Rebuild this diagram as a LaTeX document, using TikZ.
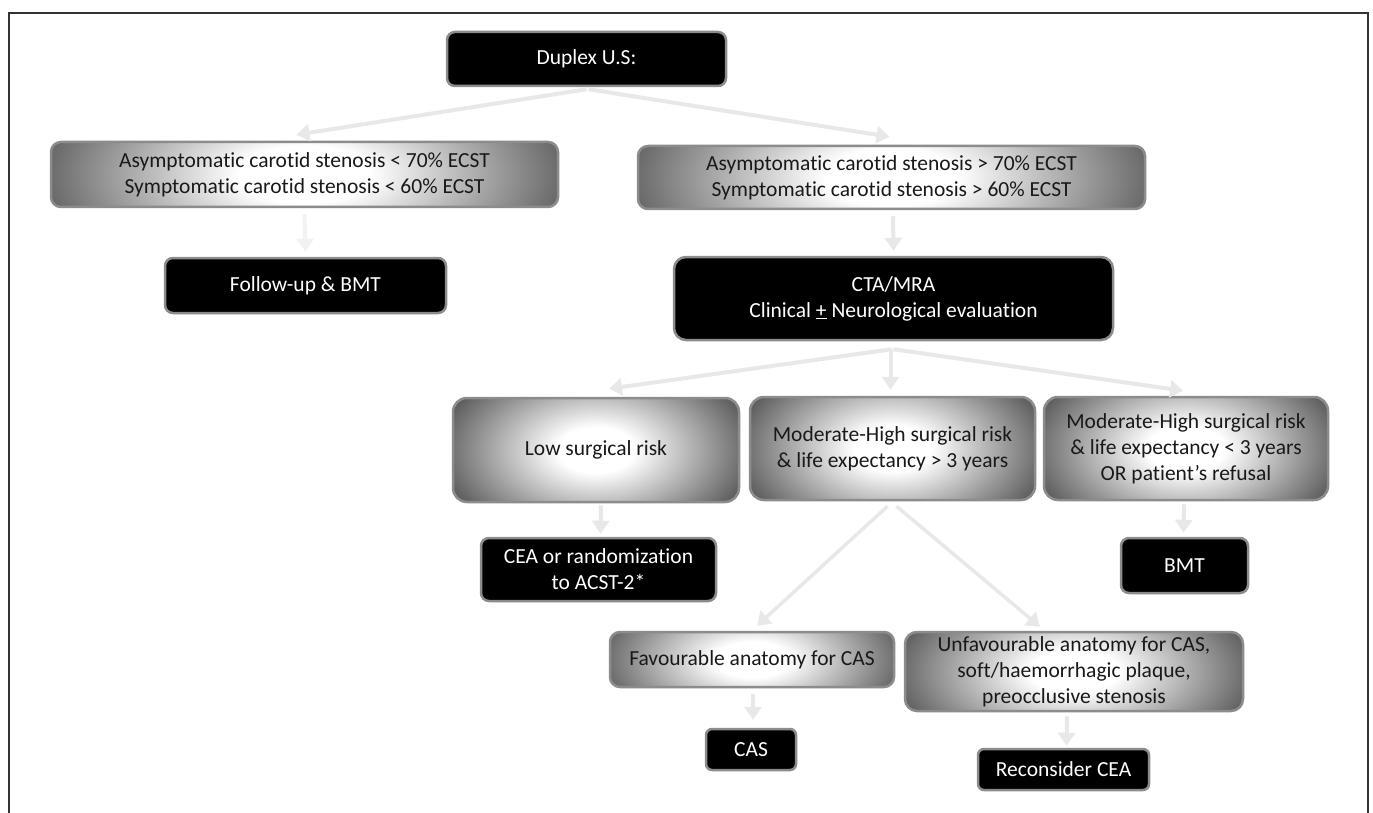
\documentclass[tikz,border=0pt]{standalone}
\usepackage{fontspec}
\setmainfont{Carlito}[Ligatures=NoCommon]
\usetikzlibrary{arrows.meta,calc}
\pgfdeclareradialshading{softshade}{\pgfpointorigin}{color(0bp)=(white); color(6bp)=(white); color(25bp)=(black!64); color(50bp)=(black!64)}
\tikzset{
  boxfont/.style={font=\fontsize{21.5}{26}\selectfont},
  blackbox/.style={boxfont, draw=black!45, line width=2.5pt, fill=black, rounded corners=8pt, text=white, align=center, inner sep=0pt},
  graybox/.style 2 args={boxfont, draw=black!45, line width=2.5pt, rounded corners=10pt, text=black!90, align=center, inner sep=0pt,
    path picture={
      \fill[black!64] (path picture bounding box.south west) rectangle (path picture bounding box.north east);
      \shade[shading=softshade] (path picture bounding box.center) ellipse [x radius=#1, y radius=#2];
    }},
  conn/.style={draw=black!9, line width=4pt, -{Triangle[width=17pt,length=13pt]}},
}
\begin{document}
\begin{tikzpicture}[x=1pt,y=-1pt]
\useasboundingbox (0,0) rectangle (1373,813);
\fill[white] (0,0) rectangle (1373,813);
\draw[black!80, line width=1.3pt] (9,13) rectangle (1368,840);

% nodes
\node[blackbox, minimum width=279pt, minimum height=54pt] (dup) at (586.5,59) {Duplex U.S:};
\node[graybox={275pt}{120pt}, minimum width=507pt, minimum height=65pt] (asl) at (304.5,174.5) {Asymptomatic carotid stenosis < 70\% ECST\\Symptomatic carotid stenosis < 60\% ECST};
\node[graybox={275pt}{120pt}, minimum width=507pt, minimum height=63pt] (asr) at (891.5,177.5) {Asymptomatic carotid stenosis > 70\% ECST\\Symptomatic carotid stenosis > 60\% ECST};
\node[blackbox, minimum width=281pt, minimum height=55pt] (fu) at (305.5,285.5) {Follow-up \& BMT};
\node[blackbox, minimum width=439pt, minimum height=83pt, rounded corners=12pt] (cta) at (893.5,298.5) {CTA/MRA\\Clinical \underline{+} Neurological evaluation};
\node[graybox={160pt}{95pt}, minimum width=286pt, minimum height=104pt, rounded corners=14pt] (low) at (596,450) {Low surgical risk};
\node[graybox={160pt}{95pt}, minimum width=285pt, minimum height=103pt, rounded corners=14pt] (mid) at (892.5,448.5) {Moderate-High surgical risk\\\& life expectancy > 3 years};
\node[graybox={160pt}{95pt}, minimum width=284pt, minimum height=103pt, rounded corners=14pt] (rgt) at (1186,448.5) {Moderate-High surgical risk\\\& life expectancy < 3 years\\OR patient’s refusal};
\node[blackbox, minimum width=235pt, minimum height=63pt] (cea) at (598.5,569.5) {CEA or randomization\\to ACST-2*};
\node[blackbox, minimum width=127pt, minimum height=55pt] (bmt) at (1184.5,565.5) {BMT};
\node[graybox={158pt}{75pt}, minimum width=284pt, minimum height=55pt] (fav) at (752,659.5) {Favourable anatomy for CAS};
\node[graybox={185pt}{90pt}, minimum width=338pt, minimum height=79pt, rounded corners=12pt] (unf) at (1074,671.5) {Unfavourable anatomy for CAS,\\soft/haemorrhagic plaque,\\preocclusive stenosis};
\node[blackbox, minimum width=90pt, minimum height=41pt, rounded corners=6pt] (cas) at (751,749.5) {CAS};
\node[blackbox, minimum width=171pt, minimum height=41pt, rounded corners=6pt] (rec) at (1063.5,769.5) {Reconsider CEA};

% connectors
\draw[conn] ($(dup.south)+(0,2)$) -- ($(asl.north)+(-8,-6)$);
\draw[conn] ($(dup.south)+(2,2)$) -- ($(asr.north)+(-2,-8)$);
\draw[conn, draw=black!5] ($(asl.south)+(0,6)$) -- ($(fu.north)+(0,-5)$);
\draw[conn] ($(asr.south)+(1.5,6)$) -- ($(cta.north)+(0,-5)$);
\draw[conn] ($(cta.south)+(-2,8)$) -- ($(low.north)+(13,-8)$);
\draw[conn] ($(cta.south)+(-3,8)$) -- ($(mid.north)+(-2,-6)$);
\draw[conn] ($(cta.south)+(0,8)$) -- ($(rgt.north)+(-3,-5)$);
\draw[conn] ($(low.south)+(5,2)$) -- ($(cea.north)+(2,-3)$);
\draw[conn, line width=3.5pt] ($(mid.south)+(-5,5)$) -- ($(fav.north)+(5,-5)$);
\draw[conn, line width=3.5pt] ($(mid.south)+(4,5)$) -- ($(unf.north)+(-34,-4)$);
\draw[conn] ($(rgt.south)+(-2,3)$) -- ($(bmt.north)+(-1,-4)$);
\draw[conn] ($(fav.south)+(1,6)$) -- ($(cas.north)+(2,-8)$);
\draw[conn] ($(unf.south)+(-7,4)$) -- ($(rec.north)+(3,-2)$);
\end{tikzpicture}
\end{document}
